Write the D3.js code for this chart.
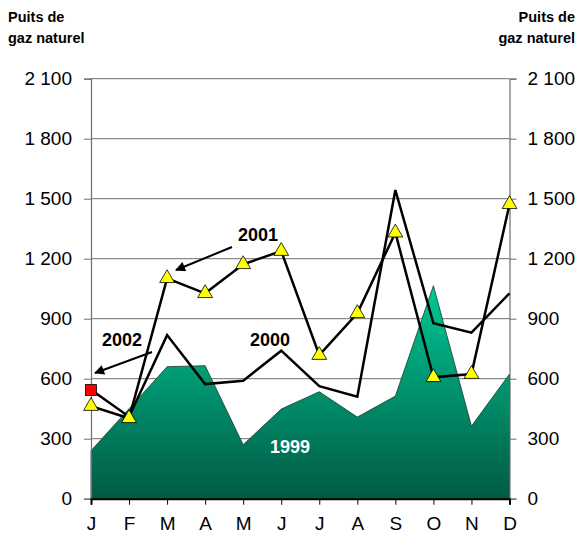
<!DOCTYPE html>
<html>
<head>
<meta charset="utf-8">
<style>
  body { margin: 0; background: #fff; font-family: "Liberation Sans", Arial, sans-serif; }
  .axis text { font-size: 19px; fill: #000; font-family: "Liberation Sans", Arial, sans-serif; }
  .ann { font-size: 18px; font-weight: bold; }
  .ttl { font-size: 14.5px; font-weight: bold; }
</style>
</head>
<body>
<script src="https://cdn.jsdelivr.net/npm/d3@7"></script>
<script>
var months = ["J", "F", "M", "A", "M", "J", "J", "A", "S", "O", "N", "D"];
var yTicks = [0, 300, 600, 900, 1200, 1500, 1800, 2100];
var s1999 = [240, 450, 660, 665, 270, 448, 535, 408, 513, 1065, 363, 623];
var s2000 = [545, 410, 818, 573, 590, 740, 563, 510, 1543, 877, 830, 1027];
var s2001 = [463, 402, 1102, 1027, 1172, 1238, 718, 927, 1330, 607, 623, 1472];
var s2002 = [543];

var W = 582, H = 537;
var x = d3.scaleLinear().domain([0, 11]).range([91, 509.5]);
var y = d3.scaleLinear().domain([0, 2100]).range([498.7, 78.7]);

var svg = d3.select("body").append("svg")
    .attr("width", W)
    .attr("height", H);

var defs = svg.append("defs");
var grad = defs.append("linearGradient")
    .attr("id", "g1999")
    .attr("x1", 0).attr("y1", 0).attr("x2", 0).attr("y2", 1);
grad.append("stop").attr("offset", "0%").attr("stop-color", "#00c896");
grad.append("stop").attr("offset", "100%").attr("stop-color", "#005a44");

var arrow = defs.append("marker")
    .attr("id", "arr")
    .attr("viewBox", "0 0 10 10")
    .attr("refX", 9).attr("refY", 5)
    .attr("markerWidth", 6).attr("markerHeight", 5)
    .attr("markerUnits", "strokeWidth")
    .attr("orient", "auto");
arrow.append("path").attr("d", "M0,0L10,5L0,10z").attr("fill", "#000");

// gridlines
svg.append("g").selectAll("line")
    .data(yTicks.filter(d => d > 0))
  .enter().append("line")
    .attr("x1", x(0)).attr("x2", x(11))
    .attr("y1", d => y(d)).attr("y2", d => y(d))
    .attr("stroke", "#6e6e6e").attr("stroke-width", 1);

// 1999 area
var area = d3.area()
    .x((d, i) => x(i))
    .y0(y(0))
    .y1(d => y(d));
svg.append("path")
    .datum(s1999)
    .attr("d", area)
    .attr("fill", "url(#g1999)")
    .attr("stroke", "#1d3a30")
    .attr("stroke-width", 0.8);

// axes
var yl = svg.append("g").attr("class", "axis")
    .attr("transform", `translate(${x(0)},0)`)
    .call(d3.axisLeft(y).tickValues(yTicks).tickSize(7).tickPadding(12)
        .tickFormat(d => d3.format(",")(d).replace(",", " ")));
var yr = svg.append("g").attr("class", "axis")
    .attr("transform", `translate(${x(11)},0)`)
    .call(d3.axisRight(y).tickValues(yTicks).tickSize(7).tickPadding(11)
        .tickFormat(d => d3.format(",")(d).replace(",", " ")));
[yl, yr].forEach(function(a) {
  a.select(".domain").attr("stroke", "#6e6e6e").attr("stroke-width", 1.2);
  a.selectAll(".tick line").attr("stroke", "#6e6e6e");
});

var xa = svg.append("g").attr("class", "axis")
    .attr("transform", `translate(0,${y(0)})`)
    .call(d3.axisBottom(x).tickValues(d3.range(12)).tickSize(6).tickPadding(12)
        .tickFormat(i => months[i]));
xa.select(".domain").attr("stroke", "#000").attr("stroke-width", 2);
xa.selectAll(".tick line").attr("stroke", "#000");

// lines
var line = d3.line().x((d, i) => x(i)).y(d => y(d));
svg.append("path").datum(s2000).attr("d", line)
    .attr("fill", "none").attr("stroke", "#000").attr("stroke-width", 2.5);
svg.append("path").datum(s2001).attr("d", line)
    .attr("fill", "none").attr("stroke", "#000").attr("stroke-width", 2.5);

// markers
svg.append("g").selectAll("path")
    .data(s2001)
  .enter().append("path")
    .attr("d", d3.symbol(d3.symbolTriangle, 95))
    .attr("transform", (d, i) => `translate(${x(i)},${y(d)})`)
    .attr("fill", "#ffff00").attr("stroke", "#000").attr("stroke-width", 0.8);
svg.append("g").selectAll("rect")
    .data(s2002)
  .enter().append("rect")
    .attr("x", (d, i) => x(i) - 5.5).attr("y", d => y(d) - 5.5)
    .attr("width", 11).attr("height", 11)
    .attr("fill", "#ff0000").attr("stroke", "#000").attr("stroke-width", 0.8);

// annotations
svg.append("text").attr("class", "ann").attr("x", 258).attr("y", 241)
    .attr("text-anchor", "middle").text("2001");
svg.append("text").attr("class", "ann").attr("x", 122).attr("y", 346)
    .attr("text-anchor", "middle").text("2002");
svg.append("text").attr("class", "ann").attr("x", 270).attr("y", 346)
    .attr("text-anchor", "middle").text("2000");
svg.append("text").attr("class", "ann").attr("x", 290).attr("y", 453)
    .attr("text-anchor", "middle").attr("fill", "#fff").text("1999");

svg.append("line").attr("x1", 232).attr("y1", 247).attr("x2", 176).attr("y2", 270)
    .attr("stroke", "#000").attr("stroke-width", 2).attr("marker-end", "url(#arr)");
svg.append("line").attr("x1", 152).attr("y1", 352).attr("x2", 95).attr("y2", 373)
    .attr("stroke", "#000").attr("stroke-width", 2).attr("marker-end", "url(#arr)");

// axis titles
var tl = svg.append("text").attr("class", "ttl").attr("y", 22);
tl.append("tspan").attr("x", 8).text("Puits de");
tl.append("tspan").attr("x", 8).attr("dy", 21).text("gaz naturel");
var tr = svg.append("text").attr("class", "ttl").attr("text-anchor", "end").attr("y", 22);
tr.append("tspan").attr("x", 575).text("Puits de");
tr.append("tspan").attr("x", 575).attr("dy", 21).text("gaz naturel");
</script>
</body>
</html>
